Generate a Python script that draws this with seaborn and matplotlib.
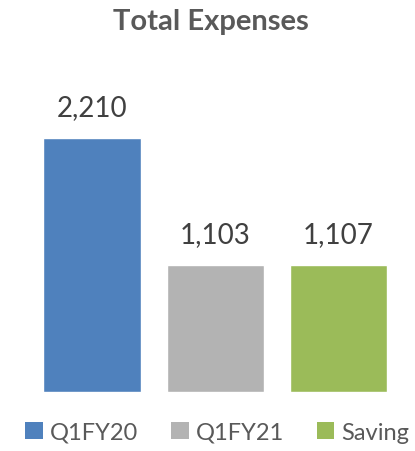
import matplotlib
matplotlib.use("Agg")
import matplotlib.pyplot as plt
from matplotlib.patches import Patch
import seaborn as sns
import pandas as pd

categories = ["Q1FY20", "Q1FY21", "Saving"]
values = [2210, 1103, 1107]
colors = ["#4F81BD", "#B3B3B3", "#9BBB59"]

sns.set_style("white")
plt.rcParams["font.family"] = ["Lato", "DejaVu Sans"]

df = pd.DataFrame({"period": categories, "expense": values})

fig = plt.figure(figsize=(4.15, 4.52), dpi=100)
ax = fig.add_axes([0.0735, 0.1305, 0.890, 0.648])

sns.barplot(data=df, x="period", y="expense", hue="period", palette=colors,
            width=0.79, legend=False, ax=ax, saturation=1)

ax.set_xlim(-0.5, 2.5)
ax.set_ylim(0, 2550)
ax.set_xlabel("")
ax.set_ylabel("")
ax.set_xticks([])
ax.set_yticks([])
for s in ax.spines.values():
    s.set_visible(False)

for i, v in enumerate(values):
    ax.annotate(f"{v:,}", (i, v), xytext=(0, 13), textcoords="offset points",
                ha="center", va="bottom", fontsize=20, color="#404040")

fig.text(0.508, 0.951, "Total Expenses", ha="center", va="center",
         fontsize=21, fontweight="bold", color="#595959")

handles = [Patch(facecolor=c, edgecolor="none") for c in colors]
fig.legend(handles, categories, loc="center", bbox_to_anchor=(0.524, 0.042),
           ncol=3, frameon=False, fontsize=17, labelcolor="#595959",
           handlelength=0.75, handleheight=0.75, handletextpad=0.3,
           columnspacing=1.38, borderaxespad=0)

fig.savefig("out.png", dpi=100)
